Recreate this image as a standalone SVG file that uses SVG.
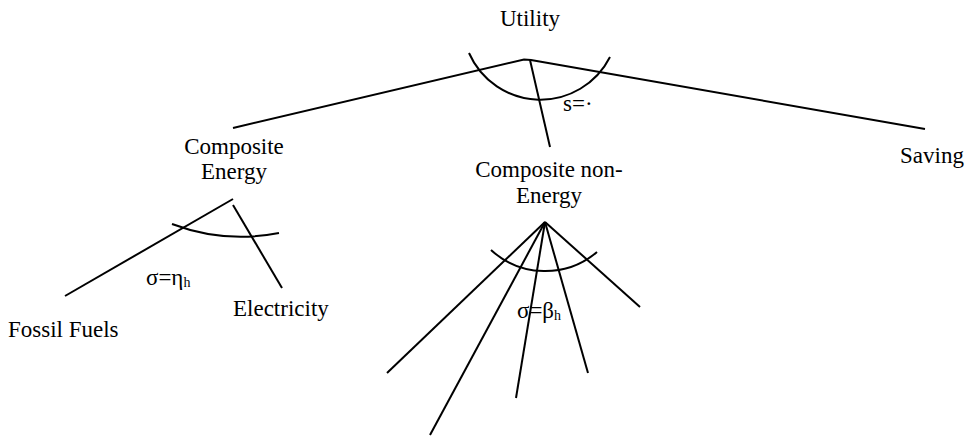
<svg xmlns="http://www.w3.org/2000/svg" width="969" height="436" viewBox="0 0 969 436">
<style>
text{font-family:"Liberation Serif","Times New Roman",serif;font-size:23px;fill:#000}
.c{text-anchor:middle}
.sub{font-size:14px}
line,path,polyline{stroke:#000;stroke-width:2;fill:none}
</style>
<rect width="969" height="436" fill="#fff"/>
<g id="connectors">
<polyline points="233,128 524,59.5 531,60 925,129"/>
<line x1="530" y1="60" x2="550" y2="147"/>
<path d="M469,53 A78,78 0 0 0 610,57"/>
<line x1="65" y1="296" x2="233" y2="199"/>
<line x1="233" y1="205" x2="282" y2="288"/>
<path d="M172,224 A196,196 0 0 0 279,233"/>
<line x1="545" y1="222" x2="387" y2="373"/>
<line x1="545" y1="222" x2="430" y2="435"/>
<line x1="545" y1="222" x2="516" y2="398"/>
<line x1="545" y1="222" x2="588" y2="373"/>
<line x1="545" y1="222" x2="640" y2="307"/>
<path d="M491,250 A80,80 0 0 0 597,252"/>
</g>
<g id="utility"><text class="c" x="530" y="26">Utility</text></g>
<g id="label-s"><text x="563" y="111">s=·</text></g>
<g id="composite-energy"><text class="c" x="234" y="154">Composite</text><text class="c" x="234" y="179">Energy</text></g>
<g id="composite-non-energy"><text class="c" x="549" y="177">Composite non-</text><text class="c" x="549" y="203">Energy</text></g>
<g id="saving"><text class="c" x="932" y="163">Saving</text></g>
<g id="fossil-fuels"><text x="8" y="337">Fossil Fuels</text></g>
<g id="electricity"><text x="233" y="316">Electricity</text></g>
<g id="label-eta"><text x="146" y="285">σ=η<tspan class="sub" dy="2">h</tspan></text></g>
<g id="label-beta"><text x="517" y="318">σ=β<tspan class="sub" dy="2">h</tspan></text></g>
</svg>
